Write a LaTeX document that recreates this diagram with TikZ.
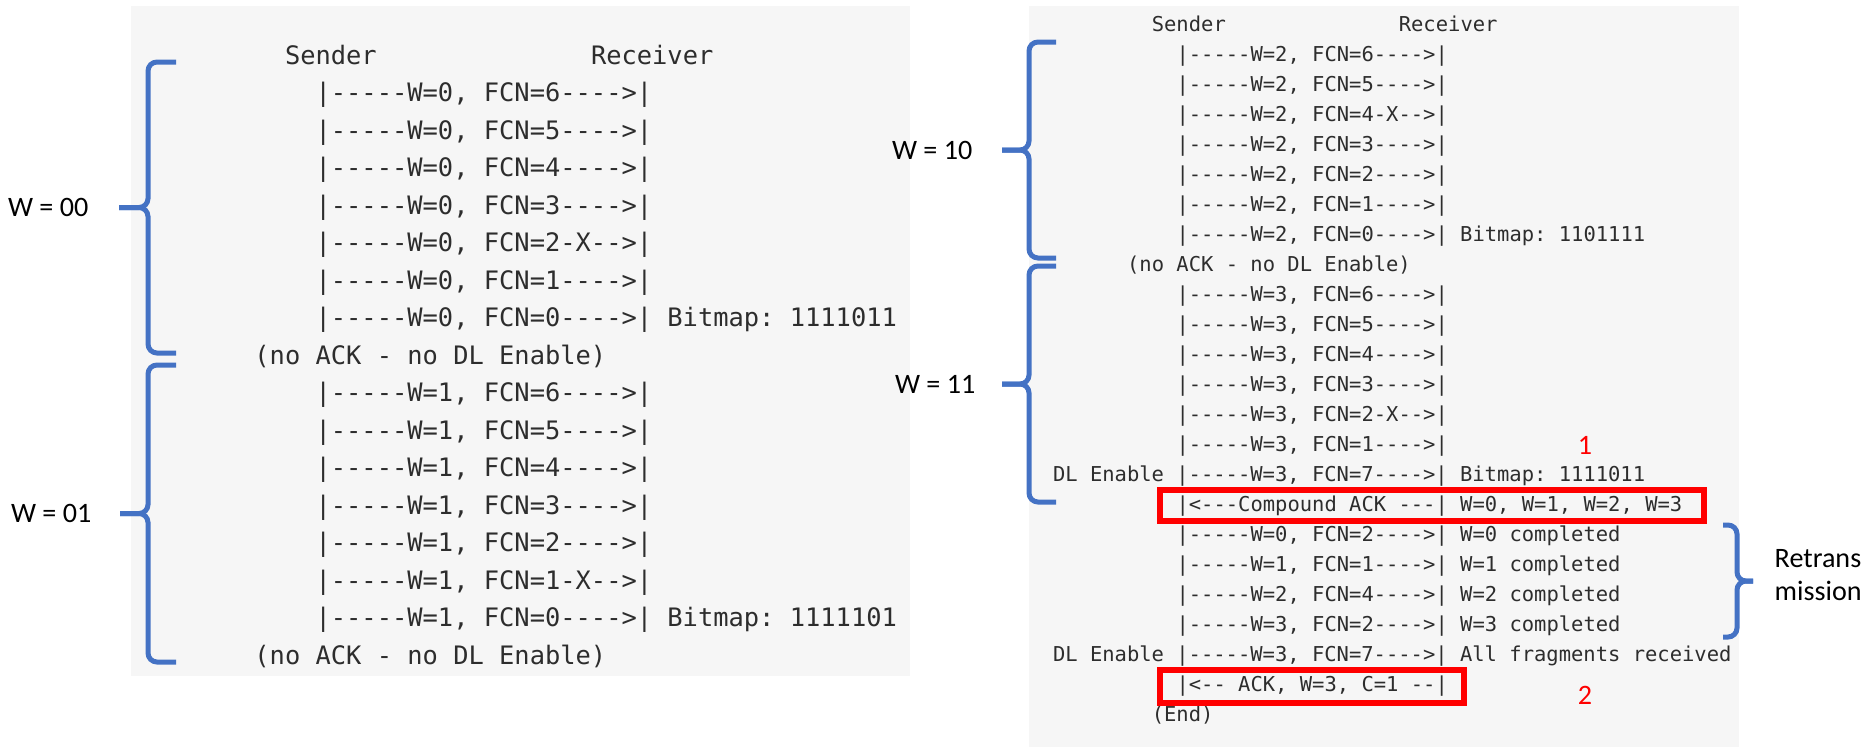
\documentclass[tikz,border=0pt]{standalone}
\usepackage{fontspec}
\setmonofont{DejaVu Sans Mono}
\newfontfamily\labelfont{Carlito}
\usepackage{xcolor}
\usepackage{tikz}
\usetikzlibrary{positioning}

\definecolor{panelgray}{RGB}{246,246,246}
\definecolor{codegray}{RGB}{45,45,45}
\definecolor{braceblue}{RGB}{68,114,196}
\definecolor{ackred}{RGB}{255,0,0}

\begin{document}
\begin{tikzpicture}[
    x=0.1mm, y=-0.1mm,
    panel/.style={fill=panelgray, draw=none},
    ltxt/.style={anchor=base west, inner sep=0pt, text=codegray, font=\ttfamily\fontsize{7.23}{8}\selectfont},
    rtxt/.style={anchor=base west, inner sep=0pt, text=codegray, font=\ttfamily\fontsize{5.83}{7}\selectfont},
    wbrace/.style={draw=braceblue, line width=0.5mm, rounded corners=0.9mm},
    wlabel/.style={inner sep=0pt, font=\labelfont\fontsize{8}{9.2}\selectfont},
    ackbox/.style={draw=ackred, line width=0.6mm},
    stepnum/.style={inner sep=0pt, text=ackred, font=\labelfont\fontsize{8}{9.6}\selectfont}
]
\useasboundingbox (0,0) rectangle (1867,747);
\fill[panel] (131,6) rectangle (910,676);
\fill[panel] (1029,6) rectangle (1739,747);

% left screenshot: one x unit = one character, one y unit = one line
\begin{scope}[shift={(161.9,64.3)}, x=1.53mm, y=-3.75mm]
\node[ltxt] (lsend) at (8,0) {Sender};
\node[ltxt] (lrecv) at (28,0) {Receiver};
\node[ltxt] (l1) at (10,1) {|-----W=0, FCN=6---->|};
\node[ltxt] (l2) at (10,2) {|-----W=0, FCN=5---->|};
\node[ltxt] (l3) at (10,3) {|-----W=0, FCN=4---->|};
\node[ltxt] (l4) at (10,4) {|-----W=0, FCN=3---->|};
\node[ltxt] (l5) at (10,5) {|-----W=0, FCN=2-X-->|};
\node[ltxt] (l6) at (10,6) {|-----W=0, FCN=1---->|};
\node[ltxt] (l7) at (10,7) {|-----W=0, FCN=0---->| Bitmap: 1111011};
\node[ltxt] (l8) at (6,8) {(no ACK - no DL Enable)};
\node[ltxt] (l9) at (10,9) {|-----W=1, FCN=6---->|};
\node[ltxt] (l10) at (10,10) {|-----W=1, FCN=5---->|};
\node[ltxt] (l11) at (10,11) {|-----W=1, FCN=4---->|};
\node[ltxt] (l12) at (10,12) {|-----W=1, FCN=3---->|};
\node[ltxt] (l13) at (10,13) {|-----W=1, FCN=2---->|};
\node[ltxt] (l14) at (10,14) {|-----W=1, FCN=1-X-->|};
\node[ltxt] (l15) at (10,15) {|-----W=1, FCN=0---->| Bitmap: 1111101};
\node[ltxt] (l16) at (6,16) {(no ACK - no DL Enable)};
\end{scope}

% right screenshot
\begin{scope}[shift={(1052.3,31.5)}, x=1.235mm, y=-3mm]
\node[rtxt] (rsend) at (8,0) {Sender};
\node[rtxt] (rrecv) at (28,0) {Receiver};
\node[rtxt] (r1) at (10,1) {|-----W=2, FCN=6---->|};
\node[rtxt] (r2) at (10,2) {|-----W=2, FCN=5---->|};
\node[rtxt] (r3) at (10,3) {|-----W=2, FCN=4-X-->|};
\node[rtxt] (r4) at (10,4) {|-----W=2, FCN=3---->|};
\node[rtxt] (r5) at (10,5) {|-----W=2, FCN=2---->|};
\node[rtxt] (r6) at (10,6) {|-----W=2, FCN=1---->|};
\node[rtxt] (r7) at (10,7) {|-----W=2, FCN=0---->| Bitmap: 1101111};
\node[rtxt] (r8) at (6,8) {(no ACK - no DL Enable)};
\node[rtxt] (r9) at (10,9) {|-----W=3, FCN=6---->|};
\node[rtxt] (r10) at (10,10) {|-----W=3, FCN=5---->|};
\node[rtxt] (r11) at (10,11) {|-----W=3, FCN=4---->|};
\node[rtxt] (r12) at (10,12) {|-----W=3, FCN=3---->|};
\node[rtxt] (r13) at (10,13) {|-----W=3, FCN=2-X-->|};
\node[rtxt] (r14) at (10,14) {|-----W=3, FCN=1---->|};
\node[rtxt] (r15) at (0,15) {DL Enable |-----W=3, FCN=7---->| Bitmap: 1111011};
\node[rtxt] (r16) at (10,16) {|<---Compound ACK ---| W=0, W=1, W=2, W=3};
\node[rtxt] (r17) at (10,17) {|-----W=0, FCN=2---->| W=0 completed};
\node[rtxt] (r18) at (10,18) {|-----W=1, FCN=1---->| W=1 completed};
\node[rtxt] (r19) at (10,19) {|-----W=2, FCN=4---->| W=2 completed};
\node[rtxt] (r20) at (10,20) {|-----W=3, FCN=2---->| W=3 completed};
\node[rtxt] (r21) at (0,21) {DL Enable |-----W=3, FCN=7---->| All fragments received};
\node[rtxt] (r22) at (10,22) {|<-- ACK, W=3, C=1 --|};
\node[rtxt] (r23) at (8,23) {(End)};
\end{scope}

% window braces
\coordinate (t00) at (119,207.5);
\draw[wbrace] (176,62) -- (148,62) -- (148,207.5) -- (t00);
\draw[wbrace] (t00) -- (148,207.5) -- (148,353) -- (176,353);
\node[wlabel, left=3mm of t00] (w00) {W = 00};

\coordinate (t01) at (120,513.5);
\draw[wbrace] (176,365) -- (148,365) -- (148,513.5) -- (t01);
\draw[wbrace] (t01) -- (148,513.5) -- (148,662) -- (176,662);
\node[wlabel, left=2.8mm of t01] (w01) {W = 01};

\coordinate (t10) at (1002,150);
\draw[wbrace] (1056,42) -- (1029,42) -- (1029,150) -- (t10);
\draw[wbrace] (t10) -- (1029,150) -- (1029,258) -- (1056,258);
\node[wlabel, left=2.9mm of t10] (w10) {W = 10};

\coordinate (t11) at (1002,384);
\draw[wbrace] (1056,266) -- (1029,266) -- (1029,384) -- (t11);
\draw[wbrace] (t11) -- (1029,384) -- (1029,502) -- (1056,502);
\node[wlabel, left=2.6mm of t11] (w11) {W = 11};

\coordinate (tre) at (1753,581);
\draw[wbrace] (1723,525) -- (1737,525) -- (1737,581) -- (tre);
\draw[wbrace] (tre) -- (1737,581) -- (1737,637) -- (1723,637);
\node[wlabel, right=2.1mm of tre, yshift=0.6mm, align=left] (retx) {Retrans\\mission};

% acknowledgements
\draw[ackbox] (1160,490) rectangle (1704,521);
\draw[ackbox] (1160,670) rectangle (1464,703);
\node[stepnum] (n1) at (1585,445) {1};
\node[stepnum] (n2) at (1585,695) {2};
\end{tikzpicture}
\end{document}
